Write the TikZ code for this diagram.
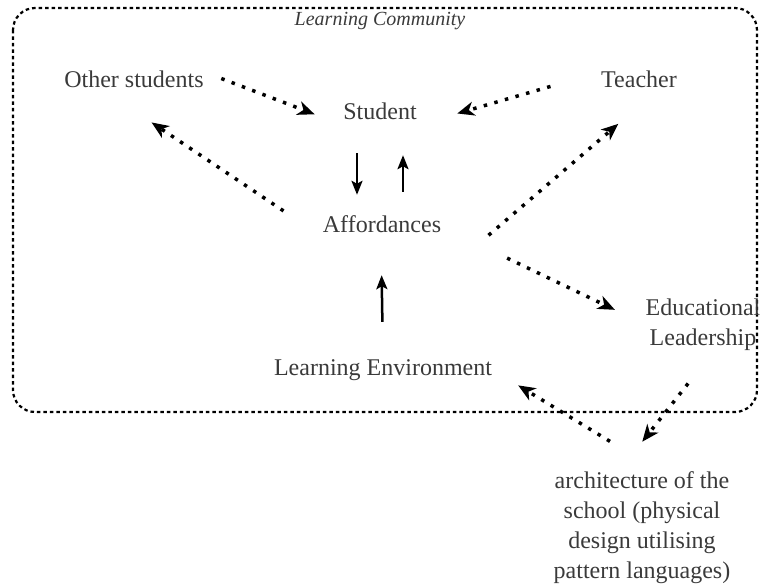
\documentclass[tikz,border=0pt]{standalone}
\usepackage{fontspec}
\setmainfont{Liberation Serif}
\usepackage{tikz}
\usetikzlibrary{arrows.meta,positioning,calc}

\definecolor{labelgray}{HTML}{3A3A3A}

\tikzset{
	lbl/.style = {font=\fontsize{24}{30}\selectfont, text=labelgray, inner sep=0pt, text height=16pt, text depth=5pt, anchor=base},
	multilbl/.style = {font=\fontsize{24}{30}\selectfont, text=labelgray, inner sep=0pt, align=center},
	dotarrow/.style = {line width=3.5pt, dash pattern=on 3.5pt off 7.5pt, -{Stealth[length=17pt,width=14pt,inset=5pt]}},
	solidarrow/.style = {line width=2.5pt, -{Stealth[length=14pt,width=11pt,inset=3pt]}},
	community/.style = {line width=2.2pt, dash pattern=on 3.5pt off 3pt, rounded corners=22pt}
}

\begin{document}
\begin{tikzpicture}[x=1pt, y=-1pt]
		\useasboundingbox (0,0) rectangle (761,586);
		
		\draw[community] (13,8) rectangle (757,412);
		\node[lbl, font=\fontsize{20}{24}\selectfont\itshape] (lc) at (380,26) {Learning Community};
		
		\node[lbl] (others) at (134,88) {Other students};
		\node[lbl] (student) at (380,120) {Student};
		\node[lbl] (teacher) at (639,88) {Teacher};
		\node[lbl] (afford) at (382,232) {Affordances};
		\node[lbl] (env) at (383,375) {Learning Environment};
		\node[multilbl] (lead) at (703,324.5) {Educational\\Leadership};
		\node[multilbl] (arch) at (642,527.5) {architecture of the\\school (physical\\design utilising\\pattern languages)};
		
		\draw[dotarrow, shorten <=18.7pt, shorten >=30.5pt] (others.north east) -- (student.south west); % others
		\draw[dotarrow, shorten <=52.6pt, shorten >=42.1pt] (teacher.north west) -- (student.south east); % teacher
		\draw[dotarrow, shorten <=47.2pt, shorten >=52.5pt] (afford.south west) -- ([xshift=-26pt]others.south);
		\draw[dotarrow, shorten <=3pt, shorten >=47pt] ([xshift=45pt]afford.south east) -- ([xshift=15pt]teacher.south);
		\draw[dotarrow, shorten <=73pt, shorten >=33.9pt] (afford.east) -- (lead.west);
		\draw[dotarrow, shorten <=41.9pt, shorten >=37.6pt] ([xshift=11pt]lead.south) -- ([xshift=-23pt]arch.north);
		\draw[dotarrow, shorten <=57.4pt, shorten >=30.5pt] ([xshift=17pt]arch.north) -- (env.east);
		
		\draw[solidarrow, shorten <=28pt, shorten >=21pt] ([xshift=-23pt]student.south) -- ([xshift=-25pt]afford.north);
		\draw[solidarrow, shorten <=24pt, shorten >=30pt] ([xshift=21pt]afford.north) -- ([xshift=23pt]student.south);
		\draw[solidarrow, shorten <=37pt, shorten >=38pt] (env.north) -- ([xshift=-1pt]afford.south);
	\end{tikzpicture}
\end{document}
